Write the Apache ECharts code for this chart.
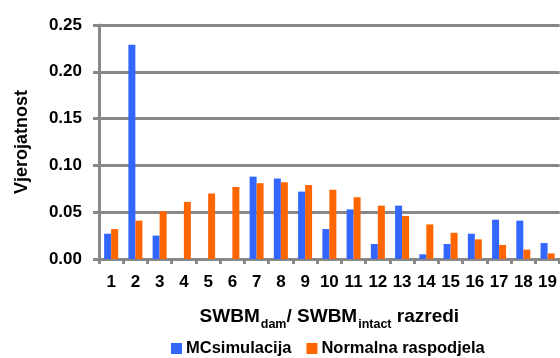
<!DOCTYPE html>
<html>
<head>
<meta charset="utf-8">
<script src="https://cdn.jsdelivr.net/npm/echarts@6/dist/echarts.min.js"></script>
<style>
html,body{margin:0;padding:0;background:#fff;}
#c{width:560px;height:358px;}
</style>
</head>
<body>
<div id="c"></div>
<script>
const categories = ['1','2','3','4','5','6','7','8','9','10','11','12','13','14','15','16','17','18','19'];
const mcSimulacija = [0.027,0.229,0.025,0,0,0,0.088,0.086,0.072,0.032,0.053,0.016,0.057,0.005,0.016,0.027,0.042,0.041,0.017];
const normalnaRaspodjela = [0.032,0.041,0.051,0.061,0.070,0.077,0.081,0.082,0.079,0.074,0.066,0.057,0.046,0.037,0.028,0.021,0.015,0.010,0.006];
const seriesNames = ['MCsimulacija','Normalna raspodjela'];
const yTicks = {min:0, max:0.25, interval:0.05};

const font = 'Arial, "Liberation Sans", sans-serif';
const chart = echarts.init(document.getElementById('c'));
chart.setOption({
  animation:false,
  textStyle:{fontFamily:font},
  grid:{left:99, top:25, width:462, height:234},
  legend:{
    data:seriesNames, top:340, left:171, padding:0,
    itemWidth:11, itemHeight:11, itemGap:15,
    icon:'rect',
    textStyle:{fontSize:16.5, fontWeight:'bold', color:'#000', fontFamily:font, padding:[0,0,0,-1]}
  },
  xAxis:{
    type:'category', data:categories,
    axisLine:{lineStyle:{color:'#888', width:3}},
    axisTick:{show:true, length:5, lineStyle:{color:'#888', width:3}},
    axisLabel:{fontSize:17, fontWeight:'bold', color:'#000', margin:15, fontFamily:font,
      interval:0, hideOverlap:false},
    name:'{m|SWBM}{s|dam}{m|/ SWBM}{s|intact}{m| razredi}',
    nameLocation:'middle', nameGap:48,
    nameTextStyle:{
      rich:{
        m:{fontSize:19, fontWeight:'bold', color:'#000', lineHeight:21, verticalAlign:'top', fontFamily:font},
        s:{fontSize:12.5, fontWeight:'bold', color:'#000', lineHeight:12, padding:[11,0,0,1], verticalAlign:'top', fontFamily:font}
      }
    }
  },
  yAxis:{
    type:'value', min:yTicks.min, max:yTicks.max, interval:yTicks.interval,
    axisLine:{show:true, lineStyle:{color:'#888', width:3}},
    axisTick:{show:true, length:6, lineStyle:{color:'#888', width:3}},
    splitLine:{lineStyle:{color:'#888', width:3}},
    axisLabel:{fontSize:17, fontWeight:'bold', color:'#000', margin:17, fontFamily:font,
      formatter:v=>v.toFixed(2)},
    name:'Vjerojatnost', nameLocation:'middle', nameGap:68,
    nameTextStyle:{fontSize:18, fontWeight:'bold', color:'#000', fontFamily:font}
  },
  series:[
    {name:seriesNames[0], type:'bar', data:mcSimulacija, barWidth:7, barGap:'0%',
      itemStyle:{color:'#3366FF'}},
    {name:seriesNames[1], type:'bar', data:normalnaRaspodjela, barWidth:7, barGap:'0%',
      itemStyle:{color:'#FF6600'}}
  ]
});
</script>
</body>
</html>
